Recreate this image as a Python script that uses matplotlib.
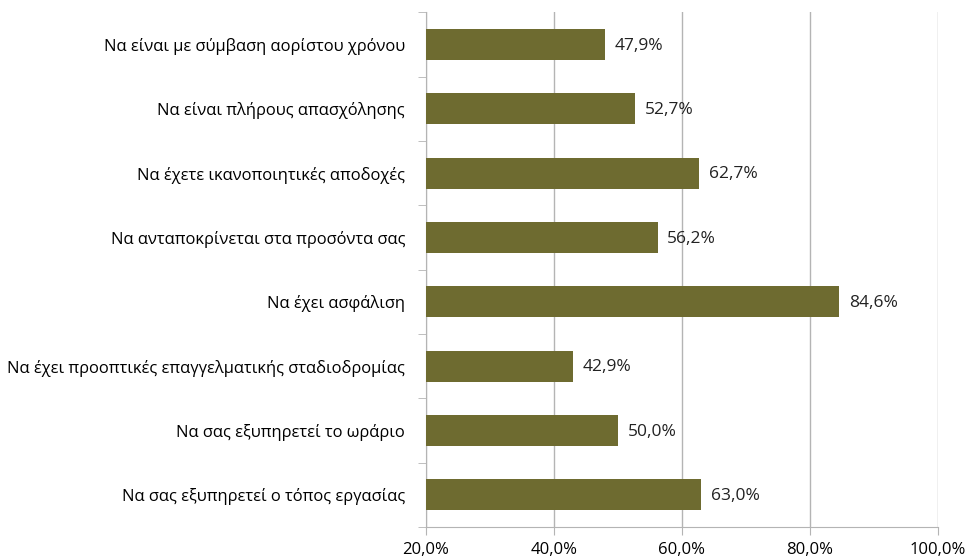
import matplotlib
matplotlib.use("Agg")
import matplotlib.pyplot as plt
import numpy as np

plt.rcParams["font.family"] = ["Open Sans", "DejaVu Sans"]

# Κατηγορίες (από πάνω προς τα κάτω) και ποσοστά
categories = [
    "Να είναι με σύμβαση αορίστου χρόνου",
    "Να είναι πλήρους απασχόλησης",
    "Να έχετε ικανοποιητικές αποδοχές",
    "Να ανταποκρίνεται στα προσόντα σας",
    "Να έχει ασφάλιση",
    "Να έχει προοπτικές επαγγελματικής σταδιοδρομίας",
    "Να σας εξυπηρετεί το ωράριο",
    "Να σας εξυπηρετεί ο τόπος εργασίας",
]
values = [47.9, 52.7, 62.7, 56.2, 84.6, 42.9, 50.0, 63.0]
x_ticks = [20, 40, 60, 80, 100]

BAR_COLOR = "#6E6B30"
GRID_COLOR = "#B4B4B4"
X_MIN, X_MAX = 20, 100

fig = plt.figure(figsize=(9.68, 5.57), dpi=100)
ax = fig.add_axes([0.440, 0.054, 0.529, 0.924])

n = len(categories)
y = np.arange(n)[::-1]
ax.barh(y, [v - X_MIN for v in values], left=X_MIN, height=0.48,
        color=BAR_COLOR, zorder=3)

for yi, v in zip(y, values):
    ax.annotate(f"{v:.1f}%".replace(".", ","), xy=(v, yi),
                xytext=(7, -1), textcoords="offset points",
                ha="left", va="center", fontsize=12.5, color="#222222")

ax.set_xlim(X_MIN, X_MAX)
ax.set_ylim(-0.5, n - 0.5)
ax.set_xticks(x_ticks)
ax.set_xticklabels([f"{t:.1f}%".replace(".", ",") for t in x_ticks], fontsize=12)
ax.xaxis.grid(True, color=GRID_COLOR, linewidth=1.0, zorder=0)

# Κατηγορίες ως κείμενο, υποδιαιρέσεις στα όρια των γραμμών
ax.set_yticks(y)
ax.set_yticklabels(categories, fontsize=11.9)
ax.tick_params(axis="y", length=0, pad=15)
ax.set_yticks(np.arange(-0.5, n, 1.0), minor=True)
ax.tick_params(axis="y", which="minor", length=6, color=GRID_COLOR)
ax.tick_params(axis="x", length=6, color=GRID_COLOR, pad=5)

for side in ("top", "right"):
    ax.spines[side].set_visible(False)
for side in ("left", "bottom"):
    ax.spines[side].set_color(GRID_COLOR)

fig.savefig("out.png", dpi=100)
